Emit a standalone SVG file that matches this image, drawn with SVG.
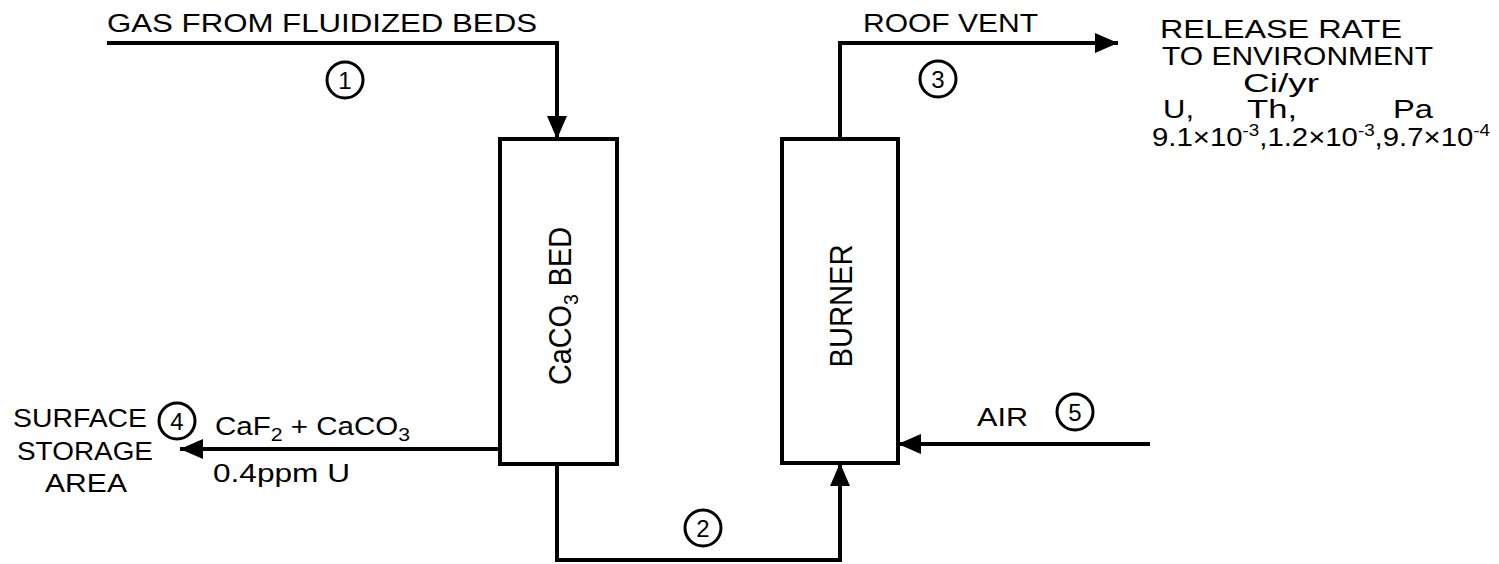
<svg xmlns="http://www.w3.org/2000/svg" width="1499" height="564" viewBox="0 0 1499 564">
<defs>
<style>
.ln{fill:none;stroke:#000;stroke-width:4;stroke-linejoin:miter}
.box{fill:#fff;stroke:#000;stroke-width:4}
.t{font-family:"Liberation Sans",Arial,sans-serif;font-size:25px;fill:#000}
.b{font-family:"Liberation Sans",Arial,sans-serif;font-size:31px;fill:#000}
.c{fill:none;stroke:#000;stroke-width:3}
.n{font-family:"Liberation Sans",Arial,sans-serif;font-size:24px;fill:#000;text-anchor:middle}
</style>
<marker id="ah" viewBox="0 0 23 20" refX="23" refY="10" markerWidth="23" markerHeight="20" markerUnits="userSpaceOnUse" orient="auto">
<path d="M0,0 L23,10 L0,20 z" fill="#000"/>
</marker>
</defs>
<g id="connectors">
<path class="ln" d="M107,43 H557 V139" marker-end="url(#ah)"/>
<path class="ln" d="M840,139 V43 H1118" marker-end="url(#ah)"/>
<path class="ln" d="M500,449 H180" marker-end="url(#ah)"/>
<path class="ln" d="M557,464 V560 H840 V463" marker-end="url(#ah)"/>
<path class="ln" d="M1150,444 H898" marker-end="url(#ah)"/>
</g>
<g id="caco3-bed">
<rect class="box" x="500" y="139" width="117" height="325"/>
<text class="b" transform="translate(571,306) rotate(-90)" text-anchor="middle" textLength="158" lengthAdjust="spacingAndGlyphs">CaCO<tspan font-size="21" dy="7">3</tspan><tspan dy="-7"> BED</tspan></text>
</g>
<g id="burner">
<rect class="box" x="782" y="139" width="116" height="324"/>
<text class="b" transform="translate(852,306) rotate(-90)" text-anchor="middle" textLength="123" lengthAdjust="spacingAndGlyphs">BURNER</text>
</g>
<g id="label-1">
<text class="t" x="107" y="32" textLength="430" lengthAdjust="spacingAndGlyphs">GAS FROM FLUIDIZED BEDS</text>
<circle class="c" cx="345" cy="80" r="18"/><text class="n" x="345" y="89">1</text>
</g>
<g id="label-2">
<circle class="c" cx="703" cy="528" r="18"/><text class="n" x="703" y="537">2</text>
</g>
<g id="label-3">
<text class="t" x="863" y="32" textLength="175" lengthAdjust="spacingAndGlyphs">ROOF VENT</text>
<circle class="c" cx="938" cy="79" r="18"/><text class="n" x="938" y="88">3</text>
</g>
<g id="release">
<text class="t" x="1160" y="38" textLength="242" lengthAdjust="spacingAndGlyphs">RELEASE RATE</text>
<text class="t" x="1162" y="65" textLength="271" lengthAdjust="spacingAndGlyphs">TO ENVIRONMENT</text>
<text class="t" x="1243" y="92" textLength="76" lengthAdjust="spacingAndGlyphs">Ci/yr</text>
<text class="t" x="1163" y="118" textLength="31" lengthAdjust="spacingAndGlyphs">U,</text>
<text class="t" x="1247" y="118" textLength="50" lengthAdjust="spacingAndGlyphs">Th,</text>
<text class="t" x="1393" y="118" textLength="40" lengthAdjust="spacingAndGlyphs">Pa</text>
<text class="t" x="1152" y="146" textLength="338" lengthAdjust="spacingAndGlyphs">9.1×10<tspan font-size="16" dy="-10">-3</tspan><tspan dy="10">,1.2×10</tspan><tspan font-size="16" dy="-10">-3</tspan><tspan dy="10">,9.7×10</tspan><tspan font-size="16" dy="-10">-4</tspan></text>
</g>
<g id="label-4">
<text class="t" x="13" y="427" textLength="134" lengthAdjust="spacingAndGlyphs">SURFACE</text>
<text class="t" x="17" y="460" textLength="136" lengthAdjust="spacingAndGlyphs">STORAGE</text>
<text class="t" x="45" y="492" textLength="82" lengthAdjust="spacingAndGlyphs">AREA</text>
<circle class="c" cx="177" cy="421" r="18"/><text class="n" x="177" y="430">4</text>
<text class="t" x="215" y="435" textLength="195" lengthAdjust="spacingAndGlyphs">CaF<tspan font-size="18" dy="6">2</tspan><tspan dy="-6"> + CaCO</tspan><tspan font-size="18" dy="6">3</tspan></text>
<text class="t" x="213" y="482" textLength="137" lengthAdjust="spacingAndGlyphs">0.4ppm U</text>
</g>
<g id="label-5">
<text class="t" x="977" y="426" textLength="51" lengthAdjust="spacingAndGlyphs">AIR</text>
<circle class="c" cx="1075" cy="412" r="18"/><text class="n" x="1075" y="421">5</text>
</g>
</svg>
